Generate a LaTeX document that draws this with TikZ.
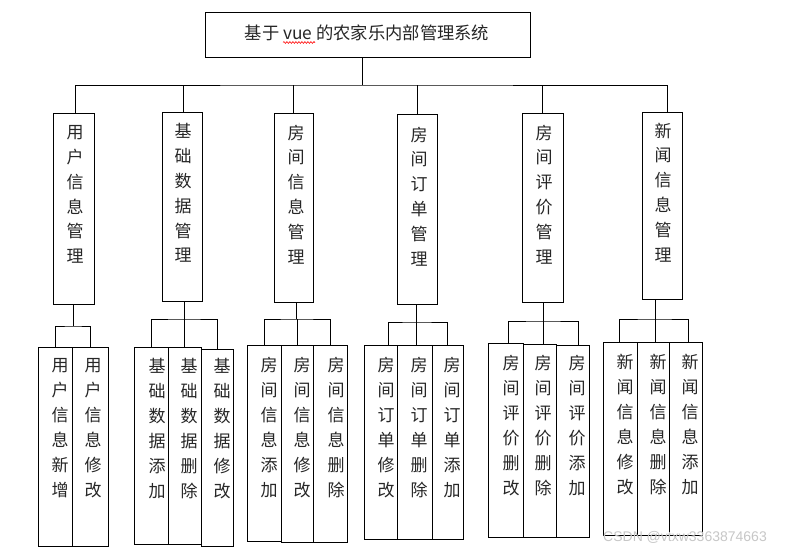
\documentclass[tikz,border=0pt]{standalone}
\usepackage{fontspec}
\newfontfamily\cjk{Noto Sans CJK SC}
\newfontfamily\wmfont{Liberation Sans}
\usetikzlibrary{decorations.pathmorphing}
\tikzset{
  box/.style={draw=black, line width=1pt, inner sep=0pt, outer sep=0pt, fill=none},
  vtxt/.style={font=\cjk\fontsize{17}{24.8}\selectfont, align=center, inner sep=0pt, anchor=north, text=black!85},
  ctxt/.style={font=\cjk\fontsize{17}{25}\selectfont, align=center, inner sep=0pt, anchor=north, text=black!85},
  conn/.style={draw=black, line width=1pt},
}
\newcommand{\bx}[5]{% name, x1, y1, x2, y2
  \node[box, minimum width={#4-#2}, minimum height={#5-#3}] (#1) at ({(#2+#4)/2},{(#3+#5)/2}) {};}
\begin{document}
\begin{tikzpicture}[x=1pt,y=-1pt]
\useasboundingbox (0,0) rectangle (785,552);
\fill[white] (0,0) rectangle (785,552);
% title
\bx{title}{205}{12}{530}{57}
\node[font=\cjk\fontsize{17.3}{20}\selectfont, inner sep=0pt, text=black!85] (ttext) at (367,33) {基于 vue 的农家乐内部管理系统};
\draw[red, line width=0.6pt, decorate, decoration={snake, amplitude=0.9pt, segment length=3pt}] (283,42.5) -- (315,42.5);
% top boxes
\bx{t1}{53}{113}{94}{304}
\bx{t2}{162}{112}{202}{301}
\bx{t3}{274}{113}{313}{302}
\bx{t4}{397}{114}{437}{304}
\bx{t5}{522}{113}{563}{302}
\bx{t6}{642}{112}{682}{299}
\node[vtxt] (tt1) at (75,125.5) {用\\户\\信\\息\\管\\理};
\node[vtxt] (tt2) at (183,123.5) {基\\础\\数\\据\\管\\理};
\node[vtxt] (tt3) at (296,124.5) {房\\间\\信\\息\\管\\理};
\node[vtxt] (tt4) at (419,126.5) {房\\间\\订\\单\\管\\理};
\node[vtxt] (tt5) at (544,124.5) {房\\间\\评\\价\\管\\理};
\node[vtxt] (tt6) at (663,122.5) {新\\闻\\信\\息\\管\\理};
% bus
\coordinate (bus) at (362,85);
\draw[conn] ([xshift=-5.5pt]title.south) -- (bus);
\draw[conn] ([xshift=2pt]t1.north) |- (bus) -| ([xshift=5pt]t6.north);
\draw[conn] ([xshift=1pt]t2.north) -- ([xshift=1pt]t2.north |- bus);
\draw[conn] (t3.north) -- (t3.north |- bus);
\draw[conn] (t4.north) -- (t4.north |- bus);
\draw[conn] (t5.north) -- (t5.north |- bus);
% group 1
\bx{c11}{38}{347}{72}{546}
\bx{c12}{72}{347}{108}{546}
\node[ctxt] (x11) at (60,358.5) {用\\户\\信\\息\\新\\增};
\node[ctxt] (x12) at (93,358.5) {用\\户\\信\\息\\修\\改};
\coordinate (j1) at (73.5,326);
\draw[conn] (t1.south) -- (j1);
\draw[conn] (c11.north) |- (j1) -| (c12.north);
% group 2
\bx{c21}{134}{347}{168}{544}
\bx{c22}{168}{347}{201}{544}
\bx{c23}{201}{349}{233}{546}
\node[ctxt] (x21) at (157,358.5) {基\\础\\数\\据\\添\\加};
\node[ctxt] (x22) at (189,358.5) {基\\础\\数\\据\\删\\除};
\node[ctxt] (x23) at (222,358.5) {基\\础\\数\\据\\修\\改};
\coordinate (j2) at (184,319);
\draw[conn] ([xshift=2pt]t2.south) -- (j2);
\draw[conn] (c21.north) |- (j2) -| (c23.north);
\draw[conn] (c22.north) -- (c22.north |- j2);
% group 3
\bx{c31}{247}{345}{281}{541}
\bx{c32}{281}{345}{313}{542}
\bx{c33}{313}{345}{347}{542}
\node[ctxt] (x31) at (269,356.5) {房\\间\\信\\息\\添\\加};
\node[ctxt] (x32) at (302,356.5) {房\\间\\信\\息\\修\\改};
\node[ctxt] (x33) at (336,356.5) {房\\间\\信\\息\\删\\除};
\coordinate (j3) at (296.5,319);
\draw[conn] ([xshift=3pt]t3.south) -- (j3);
\draw[conn] (c31.north) |- (j3) -| (c33.north);
\draw[conn] (c32.north) -- (c32.north |- j3);
% group 4
\bx{c41}{364}{345}{397}{539}
\bx{c42}{397}{345}{432}{539}
\bx{c43}{432}{345}{463}{539}
\node[ctxt] (x41) at (386,356.5) {房\\间\\订\\单\\修\\改};
\node[ctxt] (x42) at (419,356.5) {房\\间\\订\\单\\删\\除};
\node[ctxt] (x43) at (452,356.5) {房\\间\\订\\单\\添\\加};
\coordinate (j4) at (416,322);
\draw[conn] ([xshift=-1pt]t4.south) -- (j4);
\draw[conn] ([xshift=7.5pt]c41.north) |- (j4) -| ([xshift=-0.5pt]c43.north);
\draw[conn] ([xshift=1.5pt]c42.north) -- ([xshift=1.5pt]c42.north |- j4);
% group 5
\bx{c51}{488}{343}{523}{537}
\bx{c52}{523}{344}{556}{537}
\bx{c53}{556}{345}{589}{537}
\node[ctxt] (x51) at (511,354.5) {房\\间\\评\\价\\删\\改};
\node[ctxt] (x52) at (543,354.5) {房\\间\\评\\价\\删\\除};
\node[ctxt] (x53) at (577,354.5) {房\\间\\评\\价\\添\\加};
\coordinate (j5) at (543,321);
\draw[conn] ([xshift=0.5pt]t5.south) -- (j5);
\draw[conn] ([xshift=2.5pt]c51.north) |- (j5) -| ([xshift=5.5pt]c53.north);
\draw[conn] ([xshift=3.5pt]c52.north) -- ([xshift=3.5pt]c52.north |- j5);
% group 6
\bx{c61}{603}{342}{637}{535}
\bx{c62}{637}{342}{669}{535}
\bx{c63}{669}{342}{702}{535}
\node[ctxt] (x61) at (625,353.5) {新\\闻\\信\\息\\修\\改};
\node[ctxt] (x62) at (658,353.5) {新\\闻\\信\\息\\删\\除};
\node[ctxt] (x63) at (690,353.5) {新\\闻\\信\\息\\添\\加};
\coordinate (j6) at (655.5,319);
\draw[conn] ([xshift=-6.5pt]t6.south) -- (j6);
\draw[conn] ([xshift=-1pt]c61.north) |- (j6) -| ([xshift=2.5pt]c63.north);
\draw[conn] ([xshift=2.5pt]c62.north) -- ([xshift=2.5pt]c62.north |- j6);
% watermark
\node[font=\wmfont\fontsize{14}{14}\selectfont, text=black!22, anchor=west, inner sep=0pt] (wm) at (603,537) {CSDN @vtxw3363874663};
\end{tikzpicture}
\end{document}
